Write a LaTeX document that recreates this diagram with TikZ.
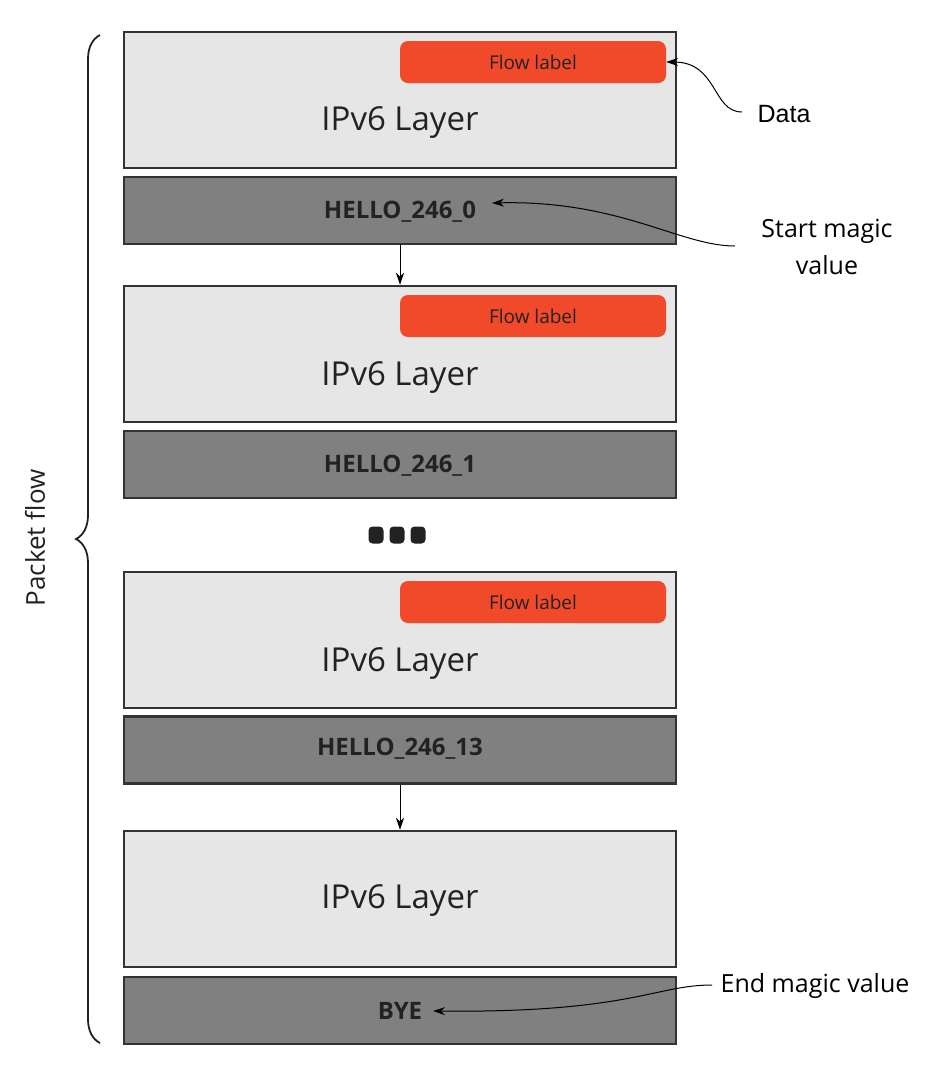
\documentclass[tikz,border=0pt]{standalone}
\usepackage{fontspec}
\setmainfont{Open Sans}
\newfontfamily\arialfont{Liberation Sans}
\usetikzlibrary{arrows.meta,decorations.pathreplacing}
\definecolor{lightfill}{HTML}{E6E6E6}
\definecolor{darkfill}{HTML}{808080}
\definecolor{borderc}{HTML}{333333}
\definecolor{flowred}{HTML}{F14A2A}
\definecolor{txtdark}{HTML}{222222}
\begin{document}
\begin{tikzpicture}[x=1pt,y=-1pt,
  layerbox/.style={draw=borderc, line width=2.5pt, fill=lightfill, minimum width=552pt, minimum height=136pt, inner sep=0pt},
  magicbox/.style={draw=borderc, line width=2.5pt, fill=darkfill, minimum width=552pt, minimum height=67pt, inner sep=0pt},
  flowbox/.style={fill=flowred, rounded corners=8pt, minimum width=266pt, minimum height=42pt, inner sep=0pt, text=txtdark, font=\fontsize{19}{22}\selectfont},
  layertext/.style={text=txtdark, font=\fontsize{33}{40}\selectfont},
  magictext/.style={text=txtdark, font=\bfseries\fontsize{24}{28}\selectfont},
  dotbox/.style={fill=txtdark, rounded corners=4pt, minimum width=15pt, minimum height=17pt, inner sep=0pt},
  callout/.style={text=black, font=\fontsize{25}{37}\selectfont, align=center},
  conn/.style={line width=1pt, -{Stealth[length=12pt,width=8pt]}}
]
\useasboundingbox (0,0) rectangle (932,1072);

% packet 1
\node[layerbox] (L1) at (400,100) {};
\node[flowbox] (F1) at (533,62) {Flow label};
\node[layertext] (T1) at (400,123) {IPv6 Layer};
\node[magicbox] (D1) at (400,210.5) {};
\node[magictext] (M1) at (400,212) {HELLO\_246\_0};

% packet 2
\node[layerbox] (L2) at (400,354) {};
\node[flowbox] (F2) at (533,316) {Flow label};
\node[layertext] (T2) at (400,378) {IPv6 Layer};
\node[magicbox] (D2) at (400,464.5) {};
\node[magictext] (M2) at (400,466) {HELLO\_246\_1};

% dots
\node[dotbox] (dot1) at (376,535) {};
\node[dotbox] (dot2) at (397,535) {};
\node[dotbox] (dot3) at (418,535) {};

% packet 3
\node[layerbox] (L3) at (400,640) {};
\node[flowbox] (F3) at (533,602) {Flow label};
\node[layertext] (T3) at (400,664) {IPv6 Layer};
\node[magicbox] (D3) at (400,750) {};
\node[magictext] (M3) at (400,749) {HELLO\_246\_13};

% packet 4
\node[layerbox] (L4) at (400,899) {};
\node[layertext] (T4) at (400,901) {IPv6 Layer};
\node[magicbox] (D4) at (400,1010.5) {};
\node[magictext] (M4) at (400,1011) {BYE};

% flow arrows
\draw[conn] (D1.south) -- (L2.north);
\draw[conn] (D3.south) -- (L4.north);

% callouts
\node[callout, font=\arialfont\fontsize{25}{30}\selectfont] (data) at (784,114) {Data};
\node[callout] (start) at (827,247) {Start magic\\value};
\node[callout, font=\fontsize{25}{30}\selectfont] (endv) at (815,986) {End magic value};

\coordinate (dataS) at (742,112);
\coordinate (startS) at (735,246);
\coordinate (endS) at (712,985);
\coordinate (startT) at (492,203);
\coordinate (endT) at (433,1011);

\draw[conn] (dataS) .. controls (712,112) and (718,62) .. (F1.east);
\draw[conn] (startS) .. controls (680,246) and (620,200) .. (startT);
\draw[conn] (endS) .. controls (655,985) and (630,1013) .. (endT);

% brace
\draw[line width=1.8pt, txtdark, decorate, decoration={brace, amplitude=24pt, aspect=0.5}] (100,1043) -- (100,35);
\node[rotate=90, text=txtdark, font=\fontsize{26}{30}\selectfont] (pflow) at (35,538) {Packet flow};
\end{tikzpicture}
\end{document}
